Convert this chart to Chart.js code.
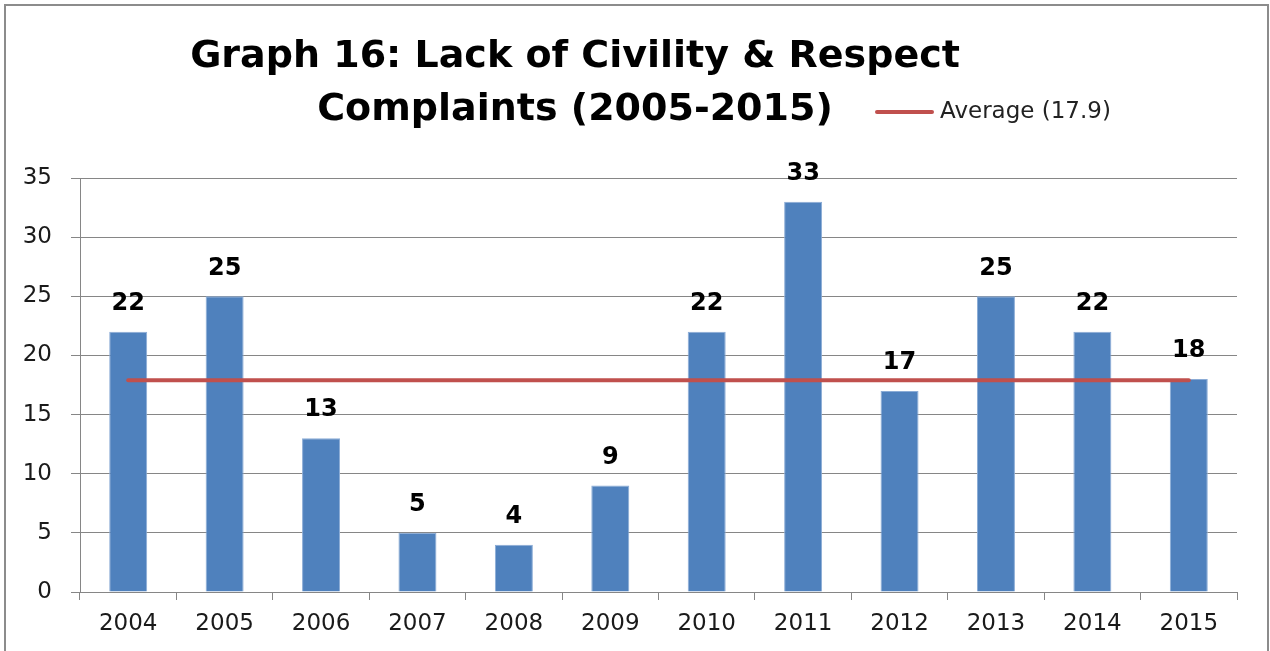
<!DOCTYPE html>
<html>
<head>
<meta charset="utf-8">
<script src="https://cdn.jsdelivr.net/npm/chart.js@4/dist/chart.umd.min.js"></script>
<style>
    html, body { margin: 0; padding: 0; background: #fff; overflow: hidden; }
    #wrap { position: relative; width: 1270px; height: 651px; }
    #frame { position: absolute; left: 4px; top: 4px; width: 1261px; height: 700px; border: 2px solid #8c8c8c; }
    #chart { position: absolute; left: 0; top: 0; }
</style>
</head>
<body>
<div id="wrap">
    <div id="frame"></div>
    <canvas id="chart" width="1270" height="651"></canvas>
</div>
<script>
(function () {

    "use strict";

    var years = ['2004', '2005', '2006', '2007', '2008', '2009', '2010', '2011', '2012', '2013', '2014', '2015'];
    var complaints = [22, 25, 13, 5, 4, 9, 22, 33, 17, 25, 22, 18];
    var averageLine = [17.9, 17.9, 17.9, 17.9, 17.9, 17.9, 17.9, 17.9, 17.9, 17.9, 17.9, 17.9];
    var titleLines = ['Graph 16: Lack of Civility & Respect', 'Complaints (2005-2015)'];
    var averageLabel = 'Average (17.9)';

    var FONT = '"DejaVu Sans", sans-serif';

    // title + legend drawn by hand so the legend can sit next to the second title line
    var headerPlugin = {
        id: 'header',
        afterDraw: function (chart) {
            var ctx = chart.ctx;
            ctx.save();
            ctx.fillStyle = '#000';
            ctx.font = 'bold 38px ' + FONT;
            ctx.textAlign = 'center';
            ctx.textBaseline = 'middle';
            ctx.fillText(titleLines[0], 575, 57);
            ctx.fillText(titleLines[1], 575, 110);

            var ds = chart.data.datasets[1];
            ctx.strokeStyle = ds.borderColor;
            ctx.lineWidth = 4;
            ctx.lineCap = 'round';
            ctx.beginPath();
            ctx.moveTo(877, 112);
            ctx.lineTo(932, 112);
            ctx.stroke();
            ctx.fillStyle = '#222';
            ctx.font = '23px ' + FONT;
            ctx.textAlign = 'left';
            ctx.fillText(ds.label, 940, 112);
            ctx.restore();
        }
    };

    var valueLabels = {
        id: 'valueLabels',
        afterDatasetsDraw: function (chart) {
            var ctx = chart.ctx;
            var meta = chart.getDatasetMeta(0);
            ctx.save();
            ctx.fillStyle = '#000';
            ctx.font = 'bold 24px ' + FONT;
            ctx.textAlign = 'center';
            ctx.textBaseline = 'middle';
            meta.data.forEach(function (bar, i) {
                ctx.fillText(String(chart.data.datasets[0].data[i]), bar.x, bar.y - 28);
            });
            ctx.restore();
        }
    };

    var ctx = document.getElementById('chart').getContext('2d');
    new Chart(ctx, {
        type: 'bar',
        data: {
            labels: years,
            datasets: [{
                label: 'Complaints',
                data: complaints,
                backgroundColor: '#4F81BD',
                borderColor: '#8BACD6',
                borderWidth: 1,
                barPercentage: 0.394,
                categoryPercentage: 1,
                order: 2
            }, {
                type: 'line',
                label: averageLabel,
                data: averageLine,
                borderColor: '#C0504D',
                borderWidth: 4,
                pointRadius: 0,
                borderCapStyle: 'round',
                fill: false,
                order: 1
            }]
        },
        options: {
            responsive: false,
            animation: false,
            layout: { padding: { top: 178, right: 33, left: 0, bottom: 0 } },
            plugins: {
                legend: { display: false },
                title: { display: false },
                tooltip: { enabled: false }
            },
            scales: {
                x: {
                    afterFit: function (scale) { scale.height = 59; },
                    grid: {
                        display: true,
                        drawOnChartArea: false,
                        drawTicks: true,
                        tickLength: 8,
                        color: '#868686'
                    },
                    border: { display: true, color: '#868686', width: 1 },
                    ticks: {
                        color: '#1a1a1a',
                        font: { family: FONT, size: 23 },
                        padding: 10,
                        maxRotation: 0
                    }
                },
                y: {
                    min: 0,
                    max: 35,
                    afterFit: function (scale) { scale.width = 80; },
                    grid: {
                        color: '#868686',
                        tickLength: 9,
                        drawTicks: true
                    },
                    border: { display: true, color: '#868686', width: 1 },
                    ticks: {
                        stepSize: 5,
                        color: '#1a1a1a',
                        font: { family: FONT, size: 23 },
                        padding: 19
                    }
                }
            }
        },
        plugins: [headerPlugin, valueLabels]
    });

})();
</script>
</body>
</html>
